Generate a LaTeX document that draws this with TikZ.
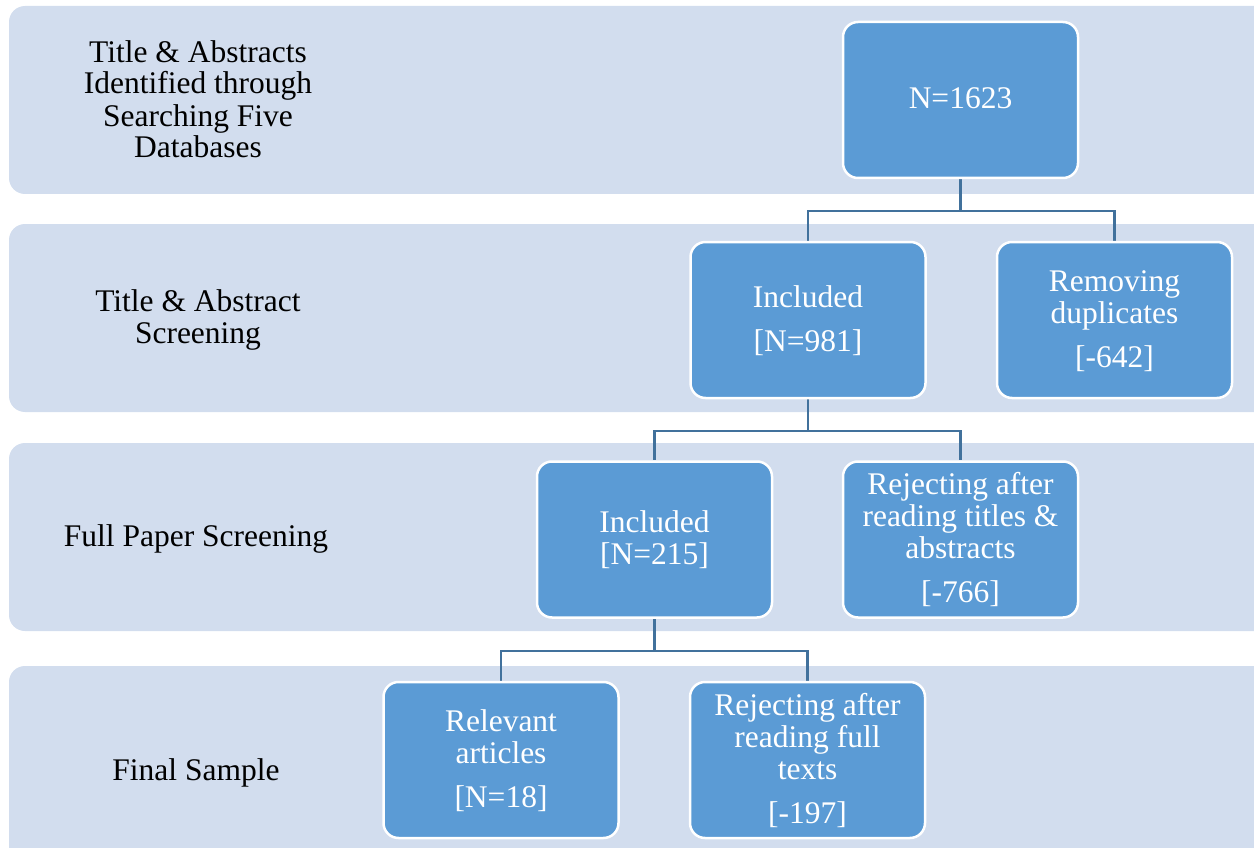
\documentclass[tikz,border=0pt]{standalone}
\usepackage{fontspec}
\setmainfont{Liberation Serif}
\usetikzlibrary{backgrounds}
\definecolor{bandc}{HTML}{D2DDEE}
\definecolor{boxc}{HTML}{5B9BD5}
\definecolor{connc}{HTML}{41719C}
\newcommand\tf{\fontsize{31.5}{32}\selectfont}
\newcommand\sr{\vrule width0pt height25pt depth7pt\relax}
\tikzset{
  band/.style={fill=bandc, draw=none, rounded corners=16pt},
  box/.style={draw=white, line width=2.5pt, fill=boxc, rounded corners=15pt,
    minimum width=235pt, minimum height=156pt, inner sep=0pt,
    text=white, font=\tf, align=center},
  lbl/.style={font=\tf, align=center, text=black, inner sep=0pt},
  conn/.style={draw=connc, line width=2.2pt}
}
\begin{document}
\begin{tikzpicture}[x=1pt,y=-1pt]
\useasboundingbox (0,0) rectangle (1254,848);
% labels
\node[lbl] (l1) at (198,101) {Title \& Abstracts\sr\\Identified through\sr\\Searching Five\sr\\Databases\sr};
\node[lbl] (l2) at (198,318) {Title \& Abstract\sr\\Screening\sr};
\node[lbl] (l3) at (196,537) {Full Paper Screening\sr};
\node[lbl] (l4) at (196,771) {Final Sample\sr};
% boxes
\node[box] (a) at (960.5,100) {N=1623\sr};
\node[box] (b) at (808,320) {Included\sr\\[12pt][N=981]\sr};
\node[box] (c) at (1114.5,320) {Removing\sr\\duplicates\sr\\[12pt][-642]\sr};
\node[box] (d) at (654.5,539.5) {Included\sr\\{}[N=215]\sr};
\node[box] (e) at (960.5,539.5) {Rejecting after\sr\\reading titles \&\sr\\abstracts\sr\\[12pt][-766]\sr};
\node[box] (f) at (501,760) {Relevant\sr\\articles\sr\\[12pt][N=18]\sr};
\node[box] (g) at (807.5,760) {Rejecting after\sr\\reading full\sr\\texts\sr\\[12pt][-197]\sr};
\begin{scope}[on background layer]
\clip (0,0) rectangle (1254,848);
% bands
\fill[band] (9,6) rectangle (1272,194);
\fill[band] (9,224) rectangle (1272,412);
\fill[band] (9,443) rectangle (1272,631);
\fill[band] (9,666) rectangle (1272,862);
% connectors
\draw[conn] (a.south) -- ++(0,32) -| (b.north);
\draw[conn] (a.south) -- ++(0,32) -| (c.north);
\draw[conn] (b.south) -- ++(0,32) -| (d.north);
\draw[conn] (b.south) -- ++(0,32) -| (e.north);
\draw[conn] (d.south) -- ++(0,32.5) -| (f.north);
\draw[conn] (d.south) -- ++(0,32.5) -| (g.north);
\end{scope}
\end{tikzpicture}
\end{document}
